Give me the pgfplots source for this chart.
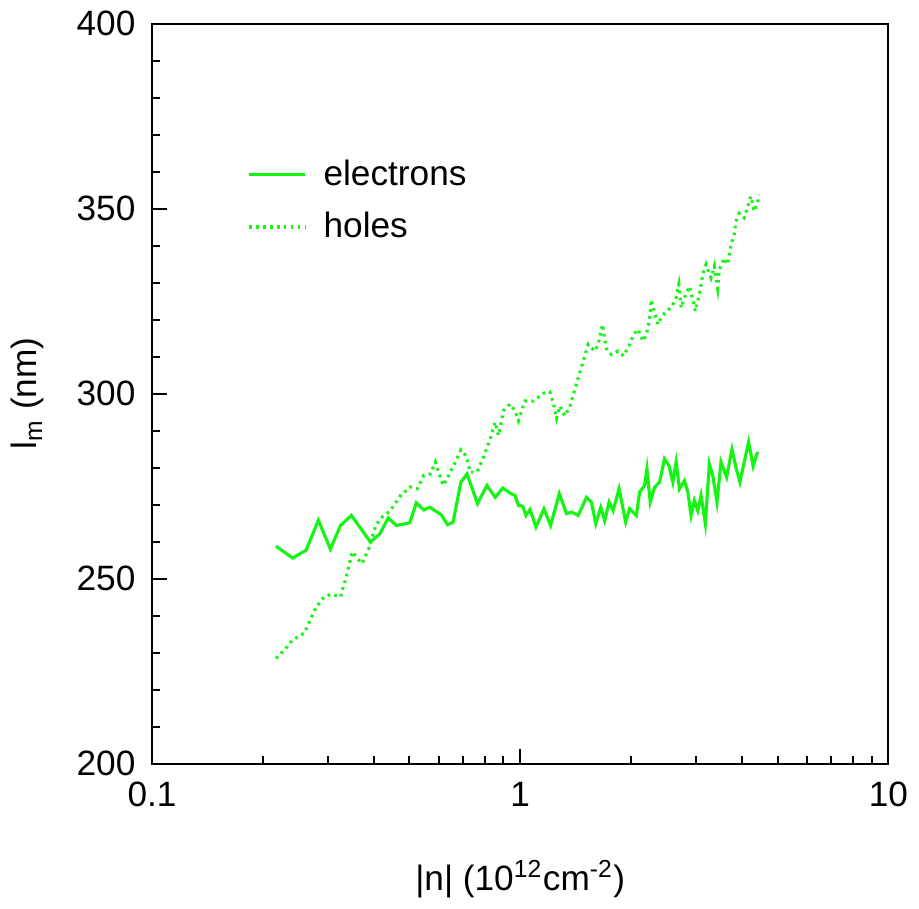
\documentclass[border=0pt]{standalone}
\usepackage{pgfplots}
\pgfplotsset{compat=1.18}
\usepackage{fontspec}
\setmainfont{Liberation Sans}
\definecolor{lgreen}{RGB}{20,245,20}
\begin{document}
\begin{tikzpicture}
\begin{axis}[
  scale only axis,
  width=221.7pt, height=222.9pt,
  xmode=log,
  xmin=0.1, xmax=10, ymin=200, ymax=400,
  xtick={0.1,1,10}, xticklabels={0.1,1,10},
  ytick={200,250,300,350,400},
  minor y tick num=4,
  tick align=inside,
  xtick pos=bottom, ytick pos=left,
  major tick length=4.5pt, minor tick length=2.5pt,
  every tick/.style={black, line width=0.6pt},
  axis line style={black, line width=0.6pt},
  /pgf/number format/assume math mode=true,
  tick label style={font=\fontsize{10.6}{12}\selectfont},
  label style={font=\fontsize{10.6}{12}\selectfont},
  xticklabel style={yshift=-2pt},
  yticklabel style={xshift=-1.5pt},
  xlabel={|n| (10\textsuperscript{12}cm\textsuperscript{-2})},
  ylabel={l\textsubscript{m} (nm)},
  xlabel style={yshift=-9pt},
  ylabel style={yshift=3pt},
  legend style={draw=none, fill=none, at={(0.115,0.835)}, anchor=north west,
    font=\fontsize{10.6}{12}\selectfont, row sep=2.5pt},
  legend cell align=left,
  legend image code/.code={\draw[#1] (0pt,0pt) -- (17pt,0pt);},
  legend style={nodes={inner xsep=5pt}},
]
\addplot[lgreen, line width=0.95pt] coordinates {
(0.217,258.8) (0.241,255.6) (0.262,257.7) (0.283,265.8) (0.305,258.0) (0.325,264.4)
(0.348,267.1) (0.392,259.9) (0.416,262.2) (0.438,266.4) (0.461,264.4) (0.501,265.1)
(0.522,270.5) (0.547,268.6) (0.568,269.3) (0.610,267.3) (0.635,264.6) (0.657,265.3)
(0.690,276.1) (0.717,278.3) (0.766,270.3) (0.812,275.2) (0.855,272.0) (0.897,274.5)
(0.943,273.0) (0.968,272.5) (0.989,269.8) (1.016,269.6) (1.037,267.1) (1.063,268.7)
(1.104,264.0) (1.160,268.9) (1.209,264.4) (1.277,273.0) (1.336,267.6) (1.379,268.0)
(1.437,267.1) (1.514,272.0) (1.561,270.7) (1.604,264.9) (1.655,269.3) (1.696,265.7)
(1.744,270.7) (1.788,268.4) (1.856,274.3) (1.934,265.3) (1.982,268.9) (2.067,267.1)
(2.110,273.4) (2.177,275.2) (2.209,279.7) (2.255,270.7) (2.317,274.7) (2.390,276.1)
(2.465,282.4) (2.534,280.6) (2.598,276.1) (2.652,281.5) (2.707,274.3) (2.793,276.5)
(2.853,273.4) (2.912,267.1) (2.972,271.1) (3.036,268.4) (3.099,272.5) (3.183,264.9)
(3.264,281.0) (3.334,277.9) (3.424,270.7) (3.510,281.5) (3.637,277.4) (3.760,285.0)
(3.855,280.1) (3.952,276.1) (4.059,281.5) (4.172,286.9) (4.293,280.4) (4.413,284.3)
};
\addlegendentry{electrons}
\addplot[lgreen, line width=0.95pt, dash pattern=on 0.8pt off 1.3pt] coordinates {
(0.217,228.5) (0.229,230.8) (0.241,233.5) (0.259,235.3) (0.278,242.0) (0.293,245.1)
(0.306,245.8) (0.325,245.1) (0.336,250.1) (0.350,257.3) (0.361,255.5) (0.372,254.1)
(0.388,258.1) (0.405,264.4) (0.422,266.7) (0.444,268.4) (0.473,272.5) (0.503,274.8)
(0.525,274.3) (0.547,277.9) (0.570,278.3) (0.588,281.5) (0.601,278.8) (0.617,275.2)
(0.639,277.9) (0.666,281.5) (0.690,284.8) (0.713,283.2) (0.731,278.8) (0.763,278.8)
(0.795,282.8) (0.829,287.8) (0.855,292.3) (0.873,288.7) (0.901,295.4) (0.938,297.2)
(0.968,295.4) (0.989,292.7) (1.009,295.4) (1.030,298.0) (1.086,298.0) (1.156,300.1)
(1.204,300.5) (1.230,297.6) (1.255,293.3) (1.282,296.7) (1.322,294.0) (1.364,296.4)
(1.407,301.2) (1.452,305.7) (1.498,310.2) (1.530,313.3) (1.594,311.5) (1.628,313.3)
(1.673,318.7) (1.696,314.7) (1.722,311.5) (1.769,310.6) (1.844,311.5) (1.910,310.2)
(1.982,313.3) (2.033,316.0) (2.089,317.4) (2.155,314.2) (2.200,316.0) (2.246,320.0)
(2.269,325.4) (2.317,321.8) (2.366,318.7) (2.415,320.5) (2.492,322.3) (2.571,323.2)
(2.652,325.9) (2.697,329.5) (2.736,323.2) (2.793,325.9) (2.881,329.0) (2.943,325.4)
(2.991,322.3) (3.066,326.8) (3.132,332.2) (3.197,334.9) (3.298,331.3) (3.367,334.4)
(3.439,328.5) (3.473,333.5) (3.583,336.6) (3.660,334.9) (3.736,340.3) (3.814,343.0)
(3.855,346.5) (3.934,348.7) (4.059,347.5) (4.232,353.3) (4.320,349.3) (4.413,351.5)
(4.457,353.8)
};
\addlegendentry{holes}
\end{axis}
\end{tikzpicture}
\end{document}
